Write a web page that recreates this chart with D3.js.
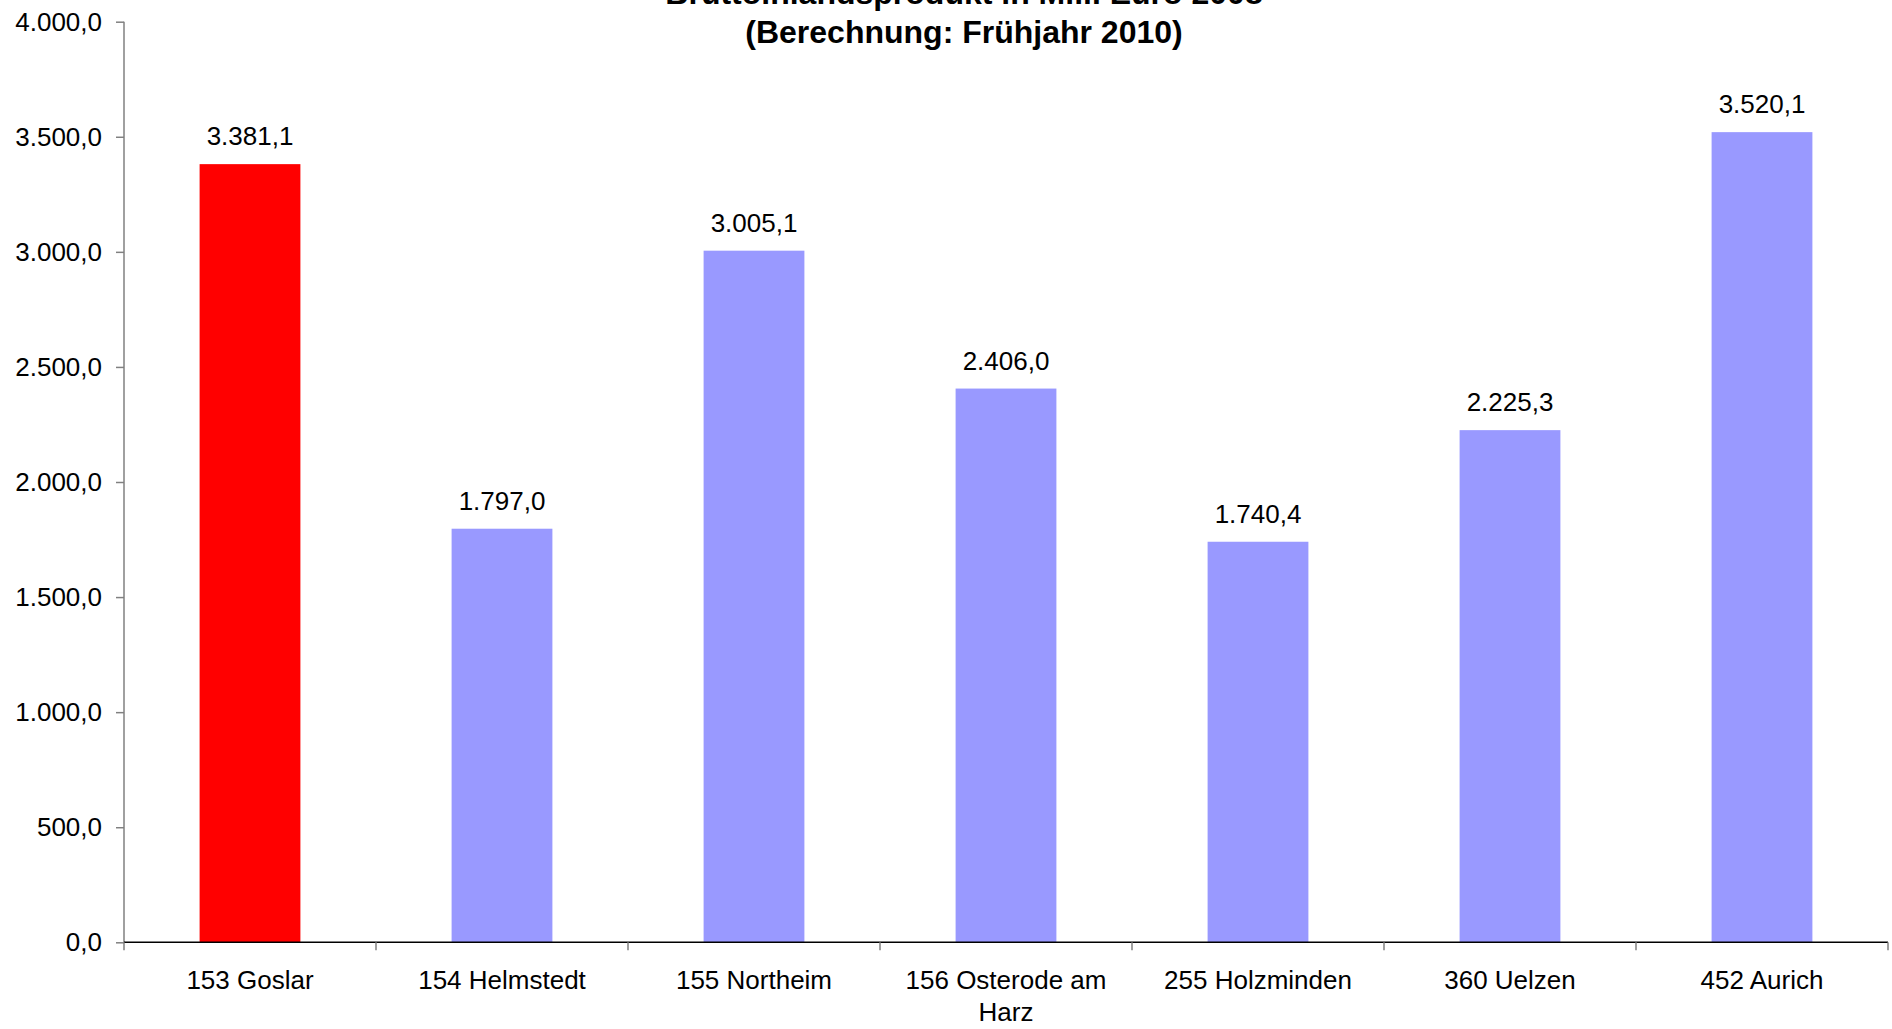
<!DOCTYPE html>
<html>
<head>
<meta charset="utf-8">
<script src="https://cdn.jsdelivr.net/npm/d3@7"></script>
<style>
  body { margin: 0; background: #fff; }
  svg text { font-family: "Liberation Sans", Arial, sans-serif; fill: #000; }
</style>
</head>
<body>
<svg id="chart" width="1892" height="1029"></svg>
<script>
// data
var categories = ["153 Goslar", "154 Helmstedt", "155 Northeim", "156 Osterode am Harz",
                  "255 Holzminden", "360 Uelzen", "452 Aurich"];
var values = [3381.1, 1797.0, 3005.1, 2406.0, 1740.4, 2225.3, 3520.1];
var highlight = ["153 Goslar"];
var yTicks = [0, 500, 1000, 1500, 2000, 2500, 3000, 3500, 4000];
var titleLines = ["Bruttoinlandsprodukt in Mill. Euro 2008", "(Berechnung: Frühjahr 2010)"];

var svg = d3.select("#chart");
var margin = { top: 21.7, right: 4, bottom: 86.7, left: 124 };
var width = 1892 - margin.left - margin.right;
var height = 1029 - margin.top - margin.bottom;

var de = d3.formatLocale({ decimal: ",", thousands: ".", grouping: [3], currency: ["", " €"] });
var fmt = de.format(",.1f");

var x = d3.scaleBand()
    .domain(categories)
    .range([0, width])
    .paddingInner(0.6)
    .paddingOuter(0.3);

var y = d3.scaleLinear()
    .domain([0, 4000])
    .range([height, 0]);

var g = svg.append("g").attr("transform", "translate(" + margin.left + "," + margin.top + ")");

// title
svg.append("g").attr("class", "title")
  .selectAll("text")
  .data(titleLines)
  .enter().append("text")
    .attr("x", 964)
    .attr("y", function(d, i) { return 4 + i * 39; })
    .attr("text-anchor", "middle")
    .style("font-size", "32px")
    .style("font-weight", "bold")
    .text(function(d) { return d; });

// bars
g.selectAll("rect.bar")
  .data(values)
  .enter().append("rect")
    .attr("class", "bar")
    .attr("x", function(d, i) { return x(categories[i]); })
    .attr("width", x.bandwidth())
    .attr("y", function(d) { return y(d); })
    .attr("height", function(d) { return height - y(d); })
    .attr("fill", function(d, i) { return highlight.indexOf(categories[i]) >= 0 ? "#FF0000" : "#9999FF"; });

// value labels
g.selectAll("text.val")
  .data(values)
  .enter().append("text")
    .attr("class", "val")
    .attr("x", function(d, i) { return x(categories[i]) + x.bandwidth() / 2; })
    .attr("y", function(d) { return y(d) - 19; })
    .attr("text-anchor", "middle")
    .style("font-size", "26px")
    .text(function(d) { return fmt(d); });

// y axis
var yAxis = g.append("g")
    .call(d3.axisLeft(y).tickValues(yTicks).tickFormat(fmt).tickSize(8).tickPadding(14));
yAxis.select(".domain").attr("stroke", "#808080").attr("stroke-width", 1.5)
    .attr("d", "M0," + height + "V0");
yAxis.selectAll(".tick line").attr("stroke", "#808080").attr("stroke-width", 1.5);
yAxis.selectAll(".tick text")
    .style("font-size", "26px")
    .attr("fill", "#000");

// x axis
var xAxis = g.append("g")
    .attr("transform", "translate(0," + height + ")");
xAxis.append("line")
    .attr("x1", 0).attr("x2", width)
    .attr("stroke", "#000").attr("stroke-width", 1.5);
var step = x.step();
xAxis.selectAll("line.tk")
  .data(d3.range(categories.length + 1))
  .enter().append("line")
    .attr("class", "tk")
    .attr("x1", function(i) { return i * step; })
    .attr("x2", function(i) { return i * step; })
    .attr("y1", 0).attr("y2", 8)
    .attr("stroke", "#808080").attr("stroke-width", 1.5);

var catLabels = xAxis.selectAll("text.cat")
  .data(categories)
  .enter().append("text")
    .attr("class", "cat")
    .attr("text-anchor", "middle")
    .attr("y", 47)
    .style("font-size", "26px")
    .text(function(d) { return d; });

// wrap long labels inside the band
catLabels.each(function(d) {
  var t = d3.select(this);
  var cx = x(d) + x.bandwidth() / 2;
  var words = d.split(" ");
  t.text(null);
  var line = [];
  var lineNo = 0;
  var tspan = t.append("tspan").attr("x", cx).attr("dy", 0);
  words.forEach(function(w) {
    line.push(w);
    tspan.text(line.join(" "));
    if (tspan.node().getComputedTextLength() > step - 10 && line.length > 1) {
      line.pop();
      tspan.text(line.join(" "));
      line = [w];
      lineNo++;
      tspan = t.append("tspan").attr("x", cx).attr("dy", 32).text(w);
    }
  });
});
</script>
</body>
</html>
